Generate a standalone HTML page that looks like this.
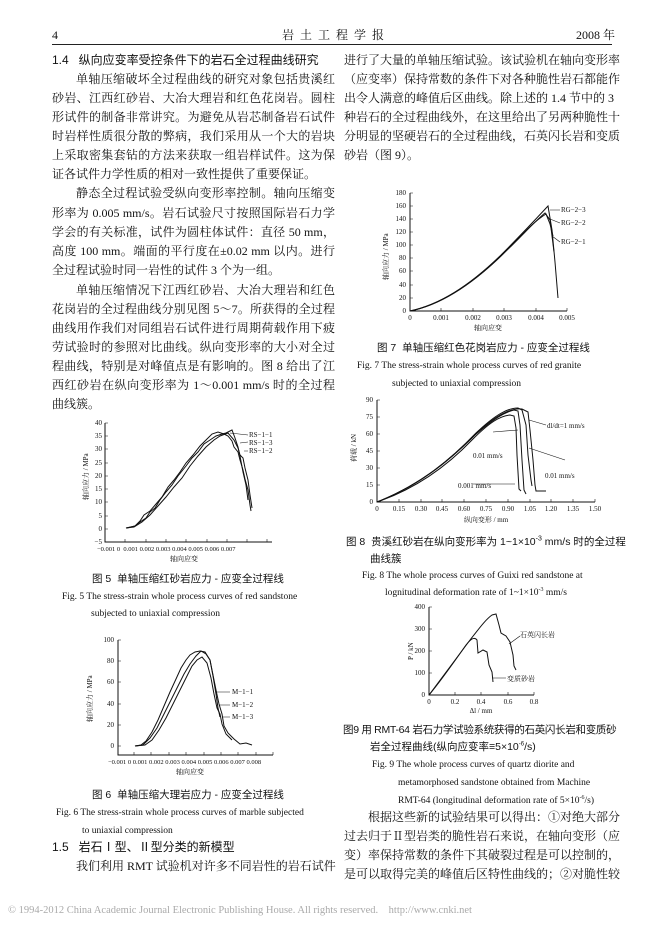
<!DOCTYPE html>
<html><head><meta charset="utf-8"><style>
body{margin:0;background:#fff;}
#p{position:relative;width:662px;height:936px;overflow:hidden;background:#fff;color:#111;font-family:"Liberation Serif","Noto Serif CJK SC",serif;font-size:12px;}
.l{position:absolute;white-space:nowrap;line-height:14px;}
.j{text-align:justify;text-align-last:justify;}
.L{left:52px;width:283px;}
.R{left:344px;width:268px;}
.h{font-family:"Liberation Sans","Noto Sans CJK SC",sans-serif;}
.c{font-family:"Liberation Sans","Noto Sans CJK SC",sans-serif;font-size:10.5px;}
.e{font-size:9.5px;}
sup{line-height:0;}
svg{position:absolute;left:0;top:0;}
svg text{font-family:"Liberation Serif","Noto Serif CJK SC",serif;font-size:7px;fill:#111;}
</style></head><body><div id="p">
<div class="l" style="left:52px;top:28px">4</div>
<div class="l" style="left:282px;top:28px;letter-spacing:6px">岩土工程学报</div>
<div class="l" style="left:576px;top:28px">2008 年</div>
<div style="position:absolute;left:52px;top:44px;width:560px;border-top:1px solid #222"></div>

<div class="l L h" style="top:53px;font-size:12px">1.4&nbsp;&nbsp;&nbsp;纵向应变率受控条件下的岩石全过程曲线研究</div>
<div class="l L j" style="top:72px;padding-left:24px;width:259px">单轴压缩破坏全过程曲线的研究对象包括贵溪红</div>
<div class="l L j" style="top:91px">砂岩、江西红砂岩、大冶大理岩和红色花岗岩。圆柱</div>
<div class="l L j" style="top:110px">形试件的制备非常讲究。为避免从岩芯制备岩石试件</div>
<div class="l L j" style="top:129px">时岩样性质很分散的弊病，我们采用从一个大的岩块</div>
<div class="l L j" style="top:148px">上采取密集套钻的方法来获取一组岩样试件。这为保</div>
<div class="l L" style="top:167px">证各试件力学性质的相对一致性提供了重要保证。</div>
<div class="l L j" style="top:186px;padding-left:24px;width:259px">静态全过程试验受纵向变形率控制。轴向压缩变</div>
<div class="l L j" style="top:206px">形率为 0.005 mm/s。岩石试验尺寸按照国际岩石力学</div>
<div class="l L j" style="top:225px">学会的有关标准，试件为圆柱体试件：直径 50 mm，</div>
<div class="l L j" style="top:244px">高度 100 mm。端面的平行度在±0.02 mm 以内。进行</div>
<div class="l L" style="top:263px">全过程试验时同一岩性的试件 3 个为一组。</div>
<div class="l L j" style="top:283px;padding-left:24px;width:259px">单轴压缩情况下江西红砂岩、大冶大理岩和红色</div>
<div class="l L j" style="top:302px">花岗岩的全过程曲线分别见图 5～7。所获得的全过程</div>
<div class="l L j" style="top:321px">曲线用作我们对同组岩石试件进行周期荷载作用下疲</div>
<div class="l L j" style="top:340px">劳试验时的参照对比曲线。纵向变形率的大小对全过</div>
<div class="l L j" style="top:359px">程曲线，特别是对峰值点是有影响的。图 8 给出了江</div>
<div class="l L j" style="top:378px">西红砂岩在纵向变形率为 1～0.001 mm/s 时的全过程</div>
<div class="l L" style="top:397px">曲线簇。</div>

<div class="l c" style="left:92px;top:572px">图 5&nbsp;&nbsp;单轴压缩红砂岩应力 - 应变全过程线</div>
<div class="l e" style="left:62px;top:590px">Fig. 5 The stress-strain whole process curves of red sandstone</div>
<div class="l e" style="left:91px;top:607px">subjected to uniaxial compression</div>
<div class="l c" style="left:92px;top:788px">图 6&nbsp;&nbsp;单轴压缩大理岩应力 - 应变全过程线</div>
<div class="l e" style="left:56px;top:806px">Fig. 6 The stress-strain whole process curves of marble subjected</div>
<div class="l e" style="left:82px;top:824px">to uniaxial compression</div>
<div class="l L h" style="top:840px">1.5&nbsp;&nbsp;&nbsp;岩石Ⅰ型、Ⅱ型分类的新模型</div>
<div class="l L j" style="top:859px;padding-left:24px;width:259px">我们利用 RMT 试验机对许多不同岩性的岩石试件</div>

<div class="l R j" style="top:53px">进行了大量的单轴压缩试验。该试验机在轴向变形率</div>
<div class="l R j" style="top:72px">（应变率）保持常数的条件下对各种脆性岩石都能作</div>
<div class="l R j" style="top:91px">出令人满意的峰值后区曲线。除上述的 1.4 节中的 3</div>
<div class="l R j" style="top:110px">种岩石的全过程曲线外，在这里给出了另两种脆性十</div>
<div class="l R j" style="top:129px">分明显的坚硬岩石的全过程曲线，石英闪长岩和变质</div>
<div class="l R" style="top:148px">砂岩（图 9）。</div>
<div class="l c" style="left:377px;top:341px">图 7&nbsp;&nbsp;单轴压缩红色花岗岩应力 - 应变全过程线</div>
<div class="l e" style="left:357px;top:359px">Fig. 7 The stress-strain whole process curves of red granite</div>
<div class="l e" style="left:392px;top:377px">subjected to uniaxial compression</div>
<div class="l c" style="left:346px;top:535px">图 8&nbsp;&nbsp;贵溪红砂岩在纵向变形率为 1~1×10<sup style="font-size:7px">-3</sup> mm/s 时的全过程</div>
<div class="l c" style="left:370px;top:552px">曲线簇</div>
<div class="l e" style="left:362px;top:569px">Fig. 8 The whole process curves of Guixi red sandstone at</div>
<div class="l e" style="left:385px;top:586px">lognitudinal deformation rate of 1~1×10<sup style="font-size:6px">-3</sup> mm/s</div>
<div class="l c" style="left:343px;top:723px;letter-spacing:-0.3px">图9 用 RMT-64 岩石力学试验系统获得的石英闪长岩和变质砂</div>
<div class="l c" style="left:370px;top:740px">岩全过程曲线(纵向应变率≡5×10<sup style="font-size:6px">-6</sup>/s)</div>
<div class="l e" style="left:372px;top:758px">Fig. 9 The whole process curves of quartz diorite and</div>
<div class="l e" style="left:398px;top:776px">metamorphosed sandstone obtained from Machine</div>
<div class="l e" style="left:398px;top:794px">RMT-64 (longitudinal deformation rate of 5×10<sup style="font-size:6px">-6</sup>/s)</div>
<div class="l R j" style="top:810px;padding-left:24px;width:244px">根据这些新的试验结果可以得出：①对绝大部分</div>
<div class="l R j" style="top:829px">过去归于Ⅱ型岩类的脆性岩石来说，在轴向变形（应</div>
<div class="l R j" style="top:848px">变）率保持常数的条件下其破裂过程是可以控制的，</div>
<div class="l R j" style="top:867px">是可以取得完美的峰值后区特性曲线的；②对脆性较</div>

<div class="l" style="left:8px;top:904px;font-size:10.5px;color:#aaa">© 1994-2012 China Academic Journal Electronic Publishing House. All rights reserved.&nbsp;&nbsp;&nbsp;&nbsp;http://www.cnki.net</div>

<svg width="662" height="936" viewBox="0 0 662 936" fill="none" stroke="#111" stroke-width="1">
<!-- Fig5 -->
<g>
<path d="M105,423V542H272"/>
<g stroke-width="0.6">
<path d="M105,423h3M105,436h3M105,449h3M105,463h3M105,476h3M105,489h3M105,502h3M105,516h3M105,529h3M105,542h3"/>
<path d="M125,542v-3M146,542v-3M166,542v-3M186,542v-3M207,542v-3M227,542v-3M247,542v-3M267,542v-3"/>
</g>
<g text-anchor="end" stroke="none"><text x="102" y="425">40</text><text x="102" y="438">35</text><text x="102" y="451">30</text><text x="102" y="465">25</text><text x="102" y="478">20</text><text x="102" y="491">15</text><text x="102" y="504">10</text><text x="102" y="518">5</text><text x="102" y="531">0</text><text x="102" y="544">−5</text></g>
<text x="97" y="551" stroke="none" style="font-size:6.5px">−0.001 0&nbsp; 0.001 0.002 0.003 0.004 0.005 0.006 0.007</text>
<text x="170" y="561" stroke="none">轴向应变</text>
<text transform="translate(88,500) rotate(-90)" stroke="none">轴向应力 / MPa</text>
<path d="M126,528 L135,526 L140,522 L146,518 L150,512 L155,508 L160,500 L166,492 L172,485 L178,476 L186,466 L192,458 L198,452 L204,444 L210,440 L216,436 L222,434 L226,433 L232,430 L235,438 L238,447 L240,456 L243,472 L246,485 L248,500"/>
<path d="M127,528 L135,526 L140,521 L144,515 L150,511 L156,504 L162,497 L168,487 L174,480 L180,472 L186,463 L193,455 L200,446 L206,440 L212,434 L218,432 L224,434 L228,436 L232,441 L234,447 L238,452 L240,460 L243,470 L245,479 L248,490 L250,505 L251,511"/>
<path d="M126,528 L134,527 L142,522 L150,515 L158,506 L166,497 L174,487 L182,478 L190,466 L198,456 L206,447 L214,440 L220,436 L228,433 L234,440 L238,448 L240,455 L243,458 L245,468 L248,480 L250,495 L252,508"/>
<path d="M230,433 L248,435 M240,443 L248,442 M244,451 L248,451" stroke-width="0.6"/>
</g>
<g stroke="none"><text x="249" y="437">RS−1−1</text><text x="249" y="445">RS−1−3</text><text x="249" y="453">RS−1−2</text></g>

<!-- Fig6 -->
<g>
<path d="M118,640V755H273"/>
<g stroke-width="0.6"><path d="M118,640h3M118,661h3M118,682h3M118,704h3M118,725h3M118,746h3M134,755v-3M151,755v-3M169,755v-3M186,755v-3M204,755v-3M221,755v-3M238,755v-3M256,755v-3M273,755v-3"/></g>
<g text-anchor="end" stroke="none"><text x="114" y="642">100</text><text x="114" y="663">80</text><text x="114" y="684">60</text><text x="114" y="706">40</text><text x="114" y="727">20</text><text x="114" y="748">0</text></g>
<text x="108" y="764" stroke="none" style="font-size:6.5px">−0.001 0 0.001 0.002 0.003 0.004 0.005 0.006 0.007 0.008</text>
<text x="176" y="774" stroke="none">轴向应变</text>
<text transform="translate(92,722) rotate(-90)" stroke="none">轴向应力 / MPa</text>
<path d="M135,746 L141,745 L146,741 L152,732 L158,720 L164,706 L170,692 L176,679 L181,668 L186,660 L190,655 L195,652 L200,651 L205,652 L210,660 L213,676 L216,694 L218,708 L220,717"/>
<path d="M135,746 L143,745 L150,738 L157,728 L164,714 L171,700 L178,686 L184,674 L190,664 L196,656 L201,651 L206,654 L210,660 L213,675 L216,690 L219,704 L222,714 L224,726 L228,733 L234,739 L240,744 L246,743 L252,745"/>
<path d="M135,746 L145,745 L152,740 L159,730 L166,718 L173,704 L180,690 L186,678 L192,666 L197,660 L202,657 L207,663 L211,678 L214,694 L217,708 L220,714 L222,724 L226,734 L232,740"/>
<path d="M216,692 L230,692 M219,705 L230,705 M222,717 L230,717" stroke-width="0.6"/>
</g>
<g stroke="none"><text x="232" y="694">M−1−1</text><text x="232" y="707">M−1−2</text><text x="232" y="719">M−1−3</text></g>

<!-- Fig7 -->
<g>
<path d="M410,193V311H567"/>
<g stroke-width="0.6"><path d="M410,193h3M410,206h3M410,219h3M410,232h3M410,245h3M410,258h3M410,271h3M410,285h3M410,298h3M441,311v-3M473,311v-3M504,311v-3M536,311v-3M567,311v-3"/></g>
<g text-anchor="end" stroke="none"><text x="406" y="195">180</text><text x="406" y="208">160</text><text x="406" y="221">140</text><text x="406" y="234">120</text><text x="406" y="247">100</text><text x="406" y="260">80</text><text x="406" y="273">60</text><text x="406" y="287">40</text><text x="406" y="300">20</text><text x="406" y="313">0</text></g>
<g text-anchor="middle" stroke="none"><text x="410" y="320">0</text><text x="441" y="320">0.001</text><text x="473" y="320">0.002</text><text x="504" y="320">0.003</text><text x="536" y="320">0.004</text><text x="567" y="320">0.005</text><text x="488" y="330">轴向应变</text></g>
<text transform="translate(388,280) rotate(-90)" stroke="none">轴向应力 / MPa</text>
<path d="M410,311 C440,305 470,285 500,256 C520,236 535,220 548,206 L552,230 L555,262 L558,298"/>
<path d="M410,311 C442,304 472,284 502,255 C522,236 534,222 545,213 L550,220 L554,252"/>
<path d="M410,311 C441,305 471,285 501,256 C521,236 533,222 546,214 L550,224 L553,236"/>
<path d="M550,210 L560,210 M550,219 L560,223 M552,236 L560,242" stroke-width="0.6"/>
</g>
<g stroke="none"><text x="561" y="212">RG−2−3</text><text x="561" y="225">RG−2−2</text><text x="561" y="244">RG−2−1</text></g>

<!-- Fig8 -->
<g>
<path d="M377,400V502H595"/>
<g stroke-width="0.6"><path d="M377,400h3M377,417h3M377,434h3M377,451h3M377,468h3M377,485h3M399,502v-3M421,502v-3M442,502v-3M464,502v-3M486,502v-3M508,502v-3M530,502v-3M551,502v-3M573,502v-3M595,502v-3"/></g>
<g text-anchor="end" stroke="none"><text x="373" y="402">90</text><text x="373" y="419">75</text><text x="373" y="436">60</text><text x="373" y="453">45</text><text x="373" y="470">30</text><text x="373" y="487">15</text><text x="373" y="504">0</text></g>
<g text-anchor="middle" stroke="none"><text x="377" y="511">0</text><text x="399" y="511">0.15</text><text x="421" y="511">0.30</text><text x="442" y="511">0.45</text><text x="464" y="511">0.60</text><text x="486" y="511">0.75</text><text x="508" y="511">0.90</text><text x="530" y="511">1.05</text><text x="551" y="511">1.20</text><text x="573" y="511">1.35</text><text x="595" y="511">1.50</text><text x="486" y="522">纵向变形 / mm</text></g>
<text transform="translate(356,462) rotate(-90)" stroke="none">荷载 / kN</text>
<path d="M377,502 C420,485 450,460 475,435 C495,418 505,412 514,410 L518,411 L520,425 L522,460 L524,490 L526,494"/>
<path d="M377,502 C418,488 448,465 472,440 C490,422 500,416 510,415 L514,416 L516,428 L517,455 L519,489 L521,491"/>
<path d="M377,502 C422,484 452,458 476,433 C496,414 508,408 518,408 L522,410 L526,425 L528,455 L531,480 L532,486"/>
<path d="M377,502 C424,484 454,456 480,430 C498,414 512,408 522,409 L528,412 L530,430 L533,460 L535,485 L536,491 L546,491"/>
<path d="M529,420 L546,425 M493,432 L518,430 M529,448 L565,460 M473,484 L515,484" stroke-width="0.6"/>
</g>
<g stroke="none" style="font-size:6.5px"><text x="547" y="428">dl/dt=1 mm/s</text><text x="473" y="458">0.01 mm/s</text><text x="545" y="478">0.01 mm/s</text><text x="458" y="488">0.001 mm/s</text></g>

<!-- Fig9 -->
<g>
<path d="M429,607V695H534"/>
<g stroke-width="0.6"><path d="M429,607h3M429,629h3M429,651h3M429,673h3M455,695v-3M481,695v-3M508,695v-3M534,695v-3"/></g>
<g text-anchor="end" stroke="none"><text x="425" y="609">400</text><text x="425" y="631">300</text><text x="425" y="653">200</text><text x="425" y="675">100</text><text x="425" y="697">0</text></g>
<g text-anchor="middle" stroke="none"><text x="429" y="704">0</text><text x="455" y="704">0.2</text><text x="481" y="704">0.4</text><text x="508" y="704">0.6</text><text x="534" y="704">0.8</text><text x="481" y="713">Δl / mm</text></g>
<text transform="translate(413,660) rotate(-90)" stroke="none">P / kN</text>
<path d="M429,695 C440,680 455,660 470,640 C478,630 485,620 492,615 L496,614 L499,625 L501,633 L506,636 L510,642 L513,655 L514,666 L516,670"/>
<path d="M429,695 C440,682 452,665 466,645 C470,640 474,636 477,640 L478,653 L483,650 L487,652 L489,665 L492,672 L493,682"/>
<path d="M509,644 L520,636 M492,678 L506,678" stroke-width="0.6"/>
</g>
<g stroke="none"><text x="520" y="637">石英闪长岩</text><text x="507" y="681">变质砂岩</text></g>
</svg>
</div></body></html>
